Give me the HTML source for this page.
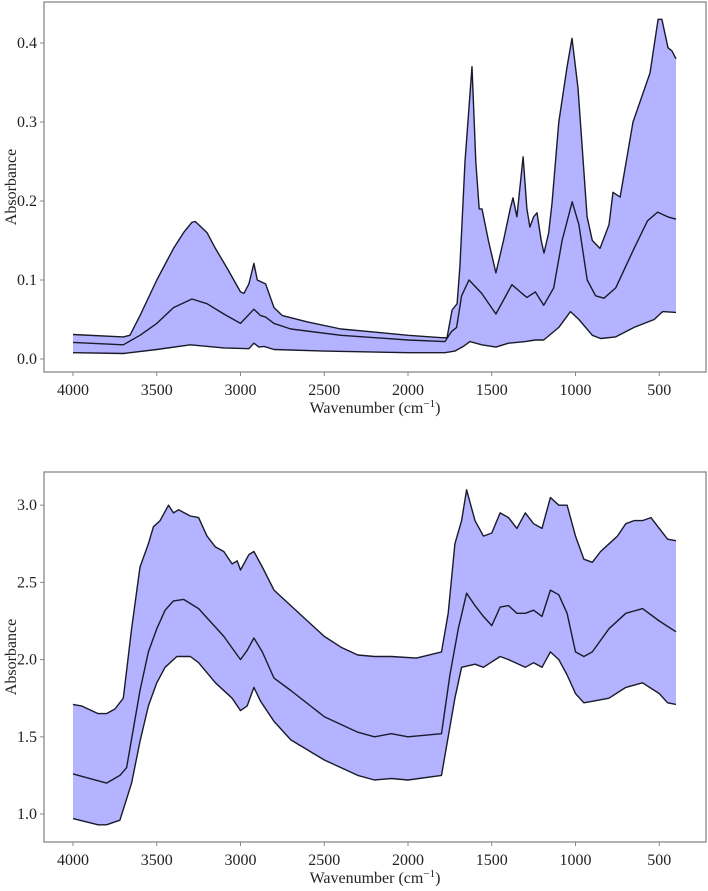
<!DOCTYPE html>
<html><head><meta charset="utf-8"><style>
body{margin:0;background:#fff}
svg text{font-family:"Liberation Serif",serif;fill:#222}
</style></head><body>
<svg id="fig" width="708" height="886" xmlns="http://www.w3.org/2000/svg"></svg>
<script>
const wnTopUpper=[4000,3700,3660,3600,3500,3400,3340,3290,3270,3200,3150,3080,3000,2980,2950,2920,2900,2870,2850,2800,2750,2600,2400,2200,2000,1800,1767,1737,1707,1690,1660,1618,1595,1575,1558,1520,1475,1430,1390,1373,1350,1313,1290,1272,1250,1230,1205,1188,1160,1140,1100,1050,1021,985,931,900,854,800,776,734,657,555,507,484,448,424,400];
const topUpper=[0.031,0.028,0.030,0.055,0.10,0.140,0.160,0.173,0.174,0.160,0.14,0.115,0.085,0.083,0.095,0.121,0.10,0.097,0.095,0.065,0.055,0.047,0.038,0.034,0.030,0.027,0.027,0.062,0.070,0.117,0.25,0.37,0.25,0.19,0.19,0.15,0.109,0.15,0.19,0.204,0.18,0.256,0.19,0.167,0.18,0.185,0.15,0.134,0.16,0.197,0.30,0.37,0.406,0.343,0.18,0.15,0.14,0.17,0.211,0.205,0.30,0.362,0.43,0.43,0.394,0.39,0.38];
const wnTopMean=[4000,3700,3600,3500,3400,3290,3200,3100,3000,2920,2880,2850,2800,2700,2400,2000,1780,1740,1710,1680,1636,1560,1475,1380,1330,1290,1240,1190,1130,1080,1020,980,930,880,830,760,650,570,510,450,400];
const topMean=[0.021,0.018,0.030,0.045,0.065,0.076,0.07,0.057,0.045,0.063,0.055,0.053,0.045,0.038,0.030,0.024,0.022,0.035,0.040,0.080,0.100,0.083,0.057,0.094,0.085,0.078,0.085,0.068,0.09,0.15,0.199,0.17,0.10,0.08,0.077,0.09,0.14,0.175,0.186,0.18,0.177];
const wnTopLower=[4000,3700,3500,3300,3100,2950,2920,2890,2860,2800,2500,2000,1780,1720,1670,1630,1560,1475,1400,1300,1240,1190,1100,1030,980,900,850,760,650,530,480,400];
const topLower=[0.008,0.007,0.012,0.018,0.014,0.013,0.020,0.015,0.016,0.012,0.010,0.008,0.008,0.010,0.016,0.022,0.018,0.015,0.020,0.022,0.024,0.024,0.040,0.060,0.050,0.030,0.026,0.028,0.040,0.050,0.060,0.059];
const topYTicks=[0.0,0.1,0.2,0.3,0.4];
const topYLabels=["0.0","0.1","0.2","0.3","0.4"];

const wnBotUpper=[4000,3950,3850,3800,3750,3700,3650,3600,3550,3520,3480,3430,3400,3370,3300,3250,3200,3150,3100,3050,3020,3000,2950,2920,2870,2800,2700,2600,2500,2400,2300,2200,2100,1950,1800,1760,1720,1680,1650,1600,1550,1500,1450,1400,1350,1300,1250,1200,1150,1100,1050,1000,950,900,850,800,750,700,650,600,550,500,450,400];
const botUpper=[1.71,1.70,1.65,1.65,1.68,1.75,2.2,2.6,2.75,2.86,2.9,3.0,2.95,2.97,2.93,2.92,2.8,2.73,2.7,2.62,2.64,2.58,2.68,2.7,2.6,2.45,2.35,2.25,2.15,2.08,2.03,2.02,2.02,2.01,2.05,2.3,2.75,2.9,3.1,2.9,2.8,2.82,2.95,2.92,2.85,2.95,2.88,2.85,3.05,3.0,3.0,2.8,2.65,2.63,2.7,2.75,2.8,2.88,2.9,2.9,2.92,2.85,2.78,2.77];
const wnBotMean=[4000,3800,3720,3680,3640,3600,3550,3500,3450,3400,3340,3250,3100,3000,2960,2920,2870,2800,2700,2500,2300,2200,2100,2000,1800,1750,1700,1650,1600,1550,1500,1450,1400,1350,1300,1250,1200,1150,1100,1050,1000,950,900,800,700,600,500,400];
const botMean=[1.26,1.2,1.25,1.3,1.55,1.8,2.05,2.2,2.32,2.38,2.39,2.33,2.15,2.0,2.06,2.14,2.05,1.88,1.8,1.63,1.53,1.5,1.52,1.5,1.52,1.9,2.2,2.43,2.35,2.28,2.22,2.34,2.35,2.3,2.3,2.32,2.28,2.45,2.42,2.3,2.05,2.02,2.05,2.2,2.3,2.33,2.25,2.18];
const wnBotLower=[4000,3850,3800,3720,3650,3600,3550,3500,3450,3380,3300,3250,3150,3050,3000,2960,2920,2880,2800,2700,2500,2300,2200,2100,2000,1800,1760,1720,1680,1600,1550,1450,1400,1300,1250,1200,1150,1100,1050,1000,950,900,800,700,600,500,450,400];
const botLower=[0.97,0.93,0.93,0.96,1.2,1.47,1.7,1.85,1.95,2.02,2.02,1.98,1.85,1.75,1.67,1.7,1.82,1.73,1.6,1.48,1.35,1.25,1.22,1.23,1.22,1.25,1.5,1.75,1.95,1.97,1.95,2.02,2.0,1.95,1.98,1.95,2.05,2.0,1.9,1.78,1.72,1.73,1.75,1.82,1.85,1.78,1.72,1.71];
const botYTicks=[1.0,1.5,2.0,2.5,3.0];
const botYLabels=["1.0","1.5","2.0","2.5","3.0"];

const xTicks=[4000,3500,3000,2500,2000,1500,1000,500];
const xLabels=["4000","3500","3000","2500","2000","1500","1000","500"];

const NS="http://www.w3.org/2000/svg";
const svg=document.getElementById('fig');
function mk(tag,attrs,parent){const e=document.createElementNS(NS,tag);for(const k in attrs)e.setAttribute(k,attrs[k]);(parent||svg).appendChild(e);return e;}

function panel(name,top,bottom,y0,y0px,pxPerUnit,yt,yl,wu,up,wm,mean,wl,low){
  const L=44,R=706;
  const x=w=>73+(4000-w)*0.1675;
  const y=v=>y0px-(v-y0)*pxPerUnit;
  const g=mk('g',{});
  
  
  let d='M'+wu.map((w,i)=>x(w).toFixed(1)+','+y(up[i]).toFixed(1)).join('L');
  for(let i=wl.length-1;i>=0;i--) d+='L'+x(wl[i]).toFixed(1)+','+y(low[i]).toFixed(1);
  const f=mk('path',{d:d+'Z',fill:'#b3b3ff',stroke:'none'},g);
  
  
  const line=(ws,vs,nm)=>{const p=mk('path',{d:'M'+ws.map((w,i)=>x(w).toFixed(1)+','+y(vs[i]).toFixed(1)).join('L'),fill:'none',stroke:'#1a1a2a','stroke-width':1.4,'stroke-linejoin':'round'},g);
    
    };
  line(wu,up,'upper-line');line(wm,mean,'mean-line');line(wl,low,'lower-line');
  const fr=mk('rect',{x:L,y:top,width:R-L,height:bottom-top,fill:'none',stroke:'#888','stroke-width':1.3},g);
  
  
  yt.forEach((v,i)=>{mk('line',{x1:L-4,x2:L,y1:y(v),y2:y(v),stroke:'#888'},g);
    const t=mk('text',{x:L-7,y:y(v)+5,'text-anchor':'end','font-size':16},g);t.textContent=yl[i];
    
    });
  xTicks.forEach((w,i)=>{mk('line',{x1:x(w),x2:x(w),y1:bottom,y2:bottom+4,stroke:'#888'},g);
    const t=mk('text',{x:x(w),y:bottom+23,'text-anchor':'middle','font-size':16},g);t.textContent=xLabels[i];
    
    });
  const xt=mk('text',{x:(L+R)/2,y:bottom+41,'text-anchor':'middle','font-size':16},g);
  xt.innerHTML='Wavenumber (cm<tspan dy="-6" font-size="11">−1</tspan><tspan dy="6">)</tspan>';
  
  
  const cy=(top+bottom)/2;
  const yt2=mk('text',{x:16,y:cy,'text-anchor':'middle','font-size':16,transform:'rotate(-90 16 '+cy+')'},g);
  yt2.textContent='Absorbance';
  
  
}
panel('top-chart',2,372,0,359,790,topYTicks,topYLabels,wnTopUpper,topUpper,wnTopMean,topMean,wnTopLower,topLower);
panel('bottom-chart',472,842,1,814,154.4,botYTicks,botYLabels,wnBotUpper,botUpper,wnBotMean,botMean,wnBotLower,botLower);
</script>
</body></html>
